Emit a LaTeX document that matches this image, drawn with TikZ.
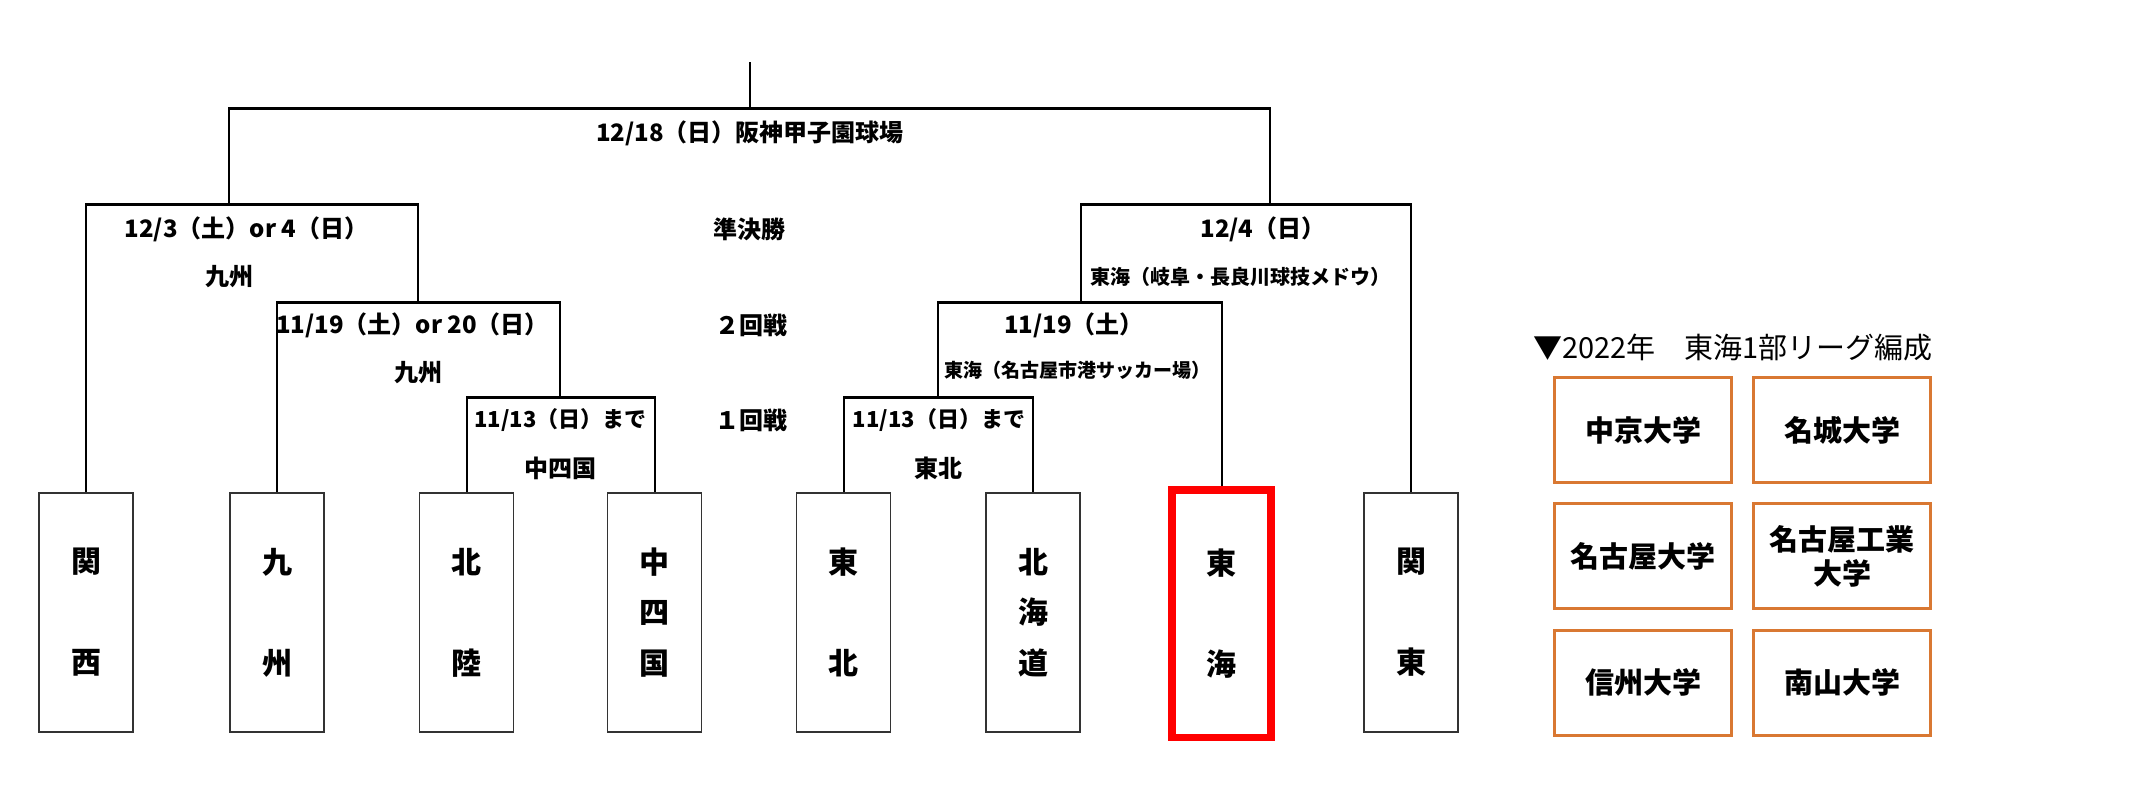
\documentclass[tikz,border=0pt]{standalone}
\usepackage{fontspec}
\setmainfont{Noto Sans CJK JP}
\definecolor{orng}{RGB}{217,120,50}
\begin{document}
\begin{tikzpicture}[x=0.5pt,y=-0.5pt,
  br/.style={line width=1pt, black},
  hbr/.style={line width=1.5pt, black},
  team/.style={draw=black!80, line width=0.9pt, minimum width=47pt, minimum height=119.5pt, inner sep=0pt, font=\bfseries\fontsize{15pt}{25.25pt}\selectfont, align=center},
  lbl/.style={font=\bfseries\fontsize{12pt}{14pt}\selectfont, inner sep=0pt},
  uni/.style={draw=orng, line width=1.5pt, minimum width=88.5pt, minimum height=52.5pt, inner sep=0pt, font=\bfseries\fontsize{14.5pt}{17pt}\selectfont, align=center}]
\useasboundingbox[fill=white] (0,0) rectangle (2147,809);

% team boxes
\node[team] (kansai)  at (86,612.5)   {関\\[25.25pt]西};
\node[team] (kyushu)  at (277,612.5)  {九\\[25.25pt]州};
\node[team] (hokuriku) at (466.5,612.5) {北\\[25.25pt]陸};
\node[team] (chushi)  at (654.5,612.5) {中\\四\\国};
\node[team] (tohoku)  at (843.5,612.5) {東\\[25.25pt]北};
\node[team] (hokkai)  at (1033,612.5) {北\\海\\道};
\node[team, draw=red, line width=3.75pt, minimum width=49.5pt, minimum height=123.75pt] (tokai) at (1221.5,613.5) {東\\[25.25pt]海};
\node[team] (kanto)   at (1411,612.5) {関\\[25.25pt]東};

% junction coordinates
\coordinate (top) at (750,62);
\coordinate (FL) at (229,108);
\coordinate (FR) at (1269.5,108);
\coordinate (FM) at (750,108);
\coordinate (SLj) at (229,204);
\coordinate (SLb) at (418,204);
\coordinate (RLj) at (418,302);
\coordinate (RLb) at (560,302);
\coordinate (QLj) at (560,397);
\coordinate (QLb) at (654.5,397);
\coordinate (SRj) at (1269.5,204);
\coordinate (SRb) at (1411,204);
\coordinate (RRj) at (1081,302);
\coordinate (RRb) at (1221.5,302);
\coordinate (QRj) at (938,397);
\coordinate (QRb) at (1033,397);

% bracket lines (vertical parts thin, horizontal parts thicker)
\draw[br] (top) -- (FM);
\draw[br] (SLj) -- (FL) -- (FR) -- (SRj);
\draw[br] (kansai.north) |- (SLb) -- (RLj);
\draw[br] (kyushu.north) |- (RLb) -- (QLj);
\draw[br] (hokuriku.north) |- (QLb) -- (chushi.north);
\draw[br] (tohoku.north) |- (QRb) -- (hokkai.north);
\draw[br] (QRj) |- (RRb) -- (tokai.north);
\draw[br] (RRj) |- (SRb) -- (kanto.north);
\draw[hbr] (FL) -- (FR);
\draw[hbr] (kansai.north |- SLb) -- (SLb);
\draw[hbr] (kyushu.north |- RLb) -- (RLb);
\draw[hbr] (hokuriku.north |- QLb) -- (QLb);
\draw[hbr] (tohoku.north |- QRb) -- (QRb);
\draw[hbr] (QRj |- RRb) -- (RRb);
\draw[hbr] (RRj |- SRb) -- (SRb);

% labels
\node[lbl] (l1) at (750,133) {12/18（日）阪神甲子園球場};
\node[lbl] (l2) at (246.5,229) {12/3（土）or 4（日）};
\node[lbl] (l3) at (229.5,277) {九州};
\node[lbl] (l4) at (749,229) {準決勝};
\node[lbl] (l5) at (1263,229) {12/4（日）};
\node[lbl, font=\bfseries\fontsize{10pt}{12pt}\selectfont] (l6) at (1240,277) {東海（岐阜・長良川球技メドウ）};
\node[lbl] (l7) at (412.5,325) {11/19（土）or 20（日）};
\node[lbl] (l8) at (418.5,373) {九州};
\node[lbl] (l9) at (751,325) {２回戦};
\node[lbl] (l10) at (1074,325) {11/19（土）};
\node[lbl, font=\bfseries\fontsize{9.5pt}{12pt}\selectfont] (l11) at (1077,370) {東海（名古屋市港サッカー場）};
\node[lbl, font=\bfseries\fontsize{11pt}{13pt}\selectfont] (l12) at (560.5,420) {11/13（日）まで};
\node[lbl, font=\bfseries\fontsize{11pt}{13pt}\selectfont] (l13) at (939,420) {11/13（日）まで};
\node[lbl] (l14) at (751,420) {１回戦};
\node[lbl] (l15) at (560,468) {中四国};
\node[lbl] (l16) at (938,468) {東北};

% right panel
\node[anchor=west, inner sep=0pt, font=\fontsize{14.5pt}{17pt}\selectfont] (title) at (1533,348) {▼2022年　東海1部リーグ編成};
\node[uni] (u1) at (1643,430) {中京大学};
\node[uni] (u2) at (1842,430) {名城大学};
\node[uni] (u3) at (1643,556) {名古屋大学};
\node[uni] (u4) at (1842,556) {名古屋工業\\大学};
\node[uni] (u5) at (1643,682.5) {信州大学};
\node[uni] (u6) at (1842,682.5) {南山大学};
\end{tikzpicture}
\end{document}
